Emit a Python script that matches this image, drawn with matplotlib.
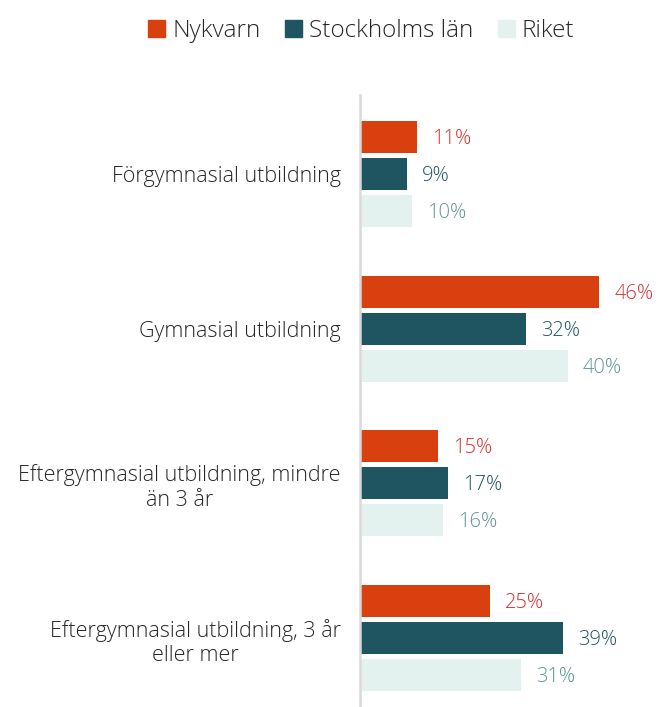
import matplotlib
matplotlib.use("Agg")
import matplotlib.pyplot as plt
import numpy as np
from matplotlib.patches import Patch

categories = ["Förgymnasial utbildning", "Gymnasial utbildning",
              "Eftergymnasial utbildning, mindre\nän 3 år",
              "Eftergymnasial utbildning, 3 år\neller mer"]
series_names = ["Nykvarn", "Stockholms län", "Riket"]
nykvarn = [11, 46, 15, 25]
stockholm = [9, 32, 17, 39]
riket = [10, 40, 16, 31]

bar_colors = ["#D9400F", "#1F5560", "#E4F2EF"]
label_colors = ["#D62E2E", "#1F5560", "#5E9394"]

plt.rcParams['font.family'] = ['Open Sans', 'DejaVu Sans']

fig = plt.figure(figsize=(6.59, 7.07), dpi=100)
ax = fig.add_axes([360/659, 0, 1 - 360/659, (707-95)/707])

y = np.arange(len(categories))
h = 0.206
off = 0.239
for i, (vals, c, lc) in enumerate(zip([nykvarn, stockholm, riket], bar_colors, label_colors)):
    pos = y + (i - 1) * off
    ax.barh(pos, vals, height=h, color=c, label=series_names[i])
    for p, v in zip(pos, vals):
        ax.annotate(f"{v}%", (v, p), xytext=(15, -2), textcoords="offset pixels",
                    va="center", ha="left", fontsize=14.5, color=lc, fontweight=300)

ax.set_xlim(0, 299/5.2)
ax.set_ylim(3.445, -0.51)
ax.set_yticks(y)
ax.set_yticklabels(categories, fontsize=15.5, color="#262626", multialignment="center", fontweight=300)
ax.tick_params(axis="y", length=0, pad=14)
ax.set_xticks([])
for s in ["top", "right", "bottom"]:
    ax.spines[s].set_visible(False)
ax.spines["left"].set_color("#D9D9D9")
ax.spines["left"].set_linewidth(1.8)

handles = [Patch(color=c, label=n) for c, n in zip(bar_colors, series_names)]
fig.legend(handles=handles, loc="center", bbox_to_anchor=(0.548, 1 - 31/707), ncol=3,
           frameon=False, handlelength=0.7, handleheight=0.7,
           handletextpad=0.3, columnspacing=1.0, labelcolor="#262626",
           prop={'weight': 300, 'size': 17.5})

fig.savefig("out.png", dpi=100)
